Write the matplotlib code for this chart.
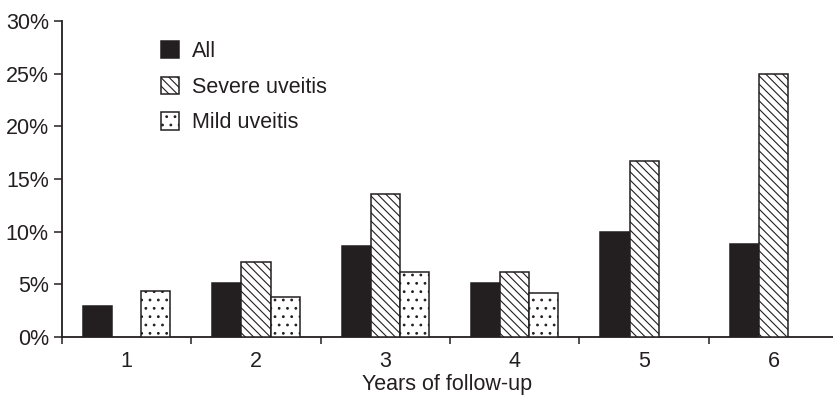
"""
Bar chart of uveitis rates by years of follow-up.
"""

import matplotlib
matplotlib.use("Agg")
import matplotlib.pyplot as plt
import numpy as np

# Chart data (percent).
years = [1, 2, 3, 4, 5, 6]
all_pct = [2.9, 5.1, 8.6, 5.1, 10.0, 8.8]
severe_pct = [None, 7.1, 13.6, 6.2, 16.7, 25.0]
mild_pct = [4.4, 3.8, 6.2, 4.2, None, None]
y_ticks = [0, 5, 10, 15, 20, 25, 30]

ink = "#231f20"
fsize = 15.5

plt.rcParams["font.family"] = ["Liberation Sans", "DejaVu Sans"]
plt.rcParams["hatch.linewidth"] = 0.8
plt.rcParams["hatch.color"] = ink

fig = plt.figure(figsize=(8.33, 3.95), dpi=100)
ax = fig.add_axes([62 / 833, 58 / 395, 1 - 62 / 833, 316 / 395])

width = 0.225
series = [
    ("All", all_pct, -width, dict(facecolor=ink)),
    ("Severe uveitis", severe_pct, 0.0, dict(facecolor="white", hatch="\\\\\\\\")),
    ("Mild uveitis", mild_pct, width, dict(facecolor="white", hatch="..")),
]

# Draw each series, skipping missing values.
for label, values, offset, style in series:
    xs = [x + offset for x, v in zip(years, values) if v is not None]
    hs = [v for v in values if v is not None]
    ax.bar(xs, hs, width=width, edgecolor=ink, linewidth=1.1, label=label, zorder=3, **style)

# Axes limits and spines.
ax.set_xlim(0.5, 6.46)
ax.set_ylim(0, 30)
for side in ["top", "right"]:
    ax.spines[side].set_visible(False)
for side in ["left", "bottom"]:
    ax.spines[side].set_linewidth(1.3)
    ax.spines[side].set_color(ink)

# Y ticks as percentages.
ax.set_yticks(y_ticks)
ax.set_yticklabels([f"{t}%" for t in y_ticks])
ax.tick_params(axis="y", length=6, width=1.1, color=ink, labelsize=fsize, labelcolor=ink, pad=3.5)

# X labels centred on groups, tick marks between groups.
ax.set_xticks(years)
ax.set_xticklabels([str(y) for y in years])
ax.tick_params(axis="x", which="major", length=0, labelsize=fsize, labelcolor=ink, pad=10)
ax.set_xticks(np.arange(0.5, 6.5, 1.0), minor=True)
ax.tick_params(axis="x", which="minor", length=5, width=1.1, color=ink)

ax.set_xlabel("Years of follow-up", fontsize=fsize, color=ink, labelpad=1.5)

# Legend without frame.
fig.legend(
    loc="upper left",
    bbox_to_anchor=(161 / 833, 1 - 41 / 395),
    frameon=False,
    fontsize=fsize,
    handlelength=0.85,
    handleheight=0.85,
    handletextpad=0.6,
    labelspacing=0.68,
    borderpad=0,
    borderaxespad=0,
    labelcolor=ink,
)

fig.savefig("out.png", dpi=100)
